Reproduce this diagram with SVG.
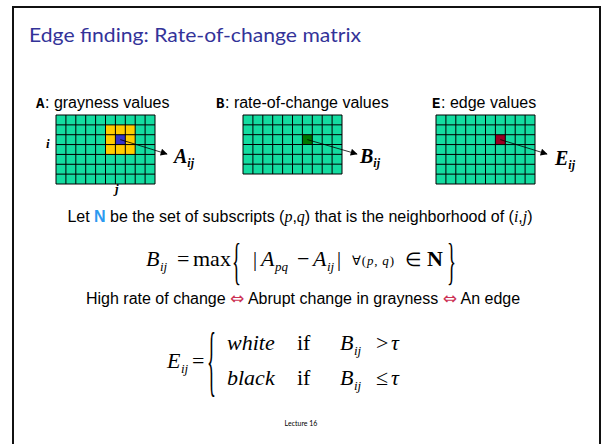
<svg xmlns="http://www.w3.org/2000/svg" width="602" height="444" viewBox="0 0 602 444" xml:space="preserve">
<defs>
<marker id="ah" viewBox="0 0 10 10" refX="9" refY="5" markerWidth="9" markerHeight="7" orient="auto" markerUnits="userSpaceOnUse">
<path d="M0,0 L10,5 L0,10 z" fill="#000"/>
</marker>
<style>
.grid{fill:#14DCA0}
.gl{stroke:#000;stroke-width:1;fill:none}
.lab{font-family:"Liberation Sans",Arial,sans-serif;font-size:16px;fill:#000}
.mono{font-family:"Liberation Mono","Courier New",monospace;font-weight:bold;font-size:14px;fill:#000}
.mi{font-family:"Liberation Serif","Times New Roman",serif;font-style:italic;fill:#000}
.mr{font-family:"Liberation Serif","Times New Roman",serif;fill:#000}
.bi{font-family:"Liberation Serif","Times New Roman",serif;font-style:italic;font-weight:bold;fill:#000}
.conn{stroke:#000;stroke-width:0.8;fill:none}
.iff{fill:#CC3355;font-family:"DejaVu Sans",sans-serif;font-size:17px}
</style>
</defs>
<rect x="13" y="7" width="587" height="450" fill="#fff" stroke="#111" stroke-width="2"/>
<g id="title">
<text x="29" y="42" font-family="Lato,'Open Sans',sans-serif" font-size="20" fill="#333399" textLength="332" lengthAdjust="spacingAndGlyphs">Edge finding:  Rate-of-change matrix</text>
</g>

<g id="gridA">
<text class="mono" x="36" y="108">A</text><text class="lab" x="45" y="108">:  grayness values</text>
<rect class="grid" x="56" y="115" width="99" height="69"/>
<rect x="105.5" y="124.86" width="29.7" height="29.57" fill="#FFCC00"/>
<rect x="115.4" y="134.71" width="9.9" height="9.86" fill="#3333CC"/>
<path class="gl" d="M56,115V184M65.9,115V184M75.8,115V184M85.7,115V184M95.6,115V184M105.5,115V184M115.4,115V184M125.3,115V184M135.2,115V184M145.1,115V184M155,115V184M56,115H155M56,124.86H155M56,134.71H155M56,144.57H155M56,154.43H155M56,164.29H155M56,174.14H155M56,184H155"/>
<text class="bi" x="46" y="148" font-size="13">i</text>
<text class="bi" x="115" y="193" font-size="13">j</text>
<text class="bi" x="174" y="163" font-size="20">A<tspan font-size="12" dy="4">ij</tspan></text>
</g>

<g id="gridB">
<text class="mono" x="216" y="108">B</text><text class="lab" x="225" y="108">:  rate-of-change values</text>
<rect class="grid" x="243" y="115" width="99" height="59"/>
<rect x="302.4" y="134.67" width="9.9" height="9.83" fill="#007700"/>
<path class="gl" d="M243,115V174M252.9,115V174M262.8,115V174M272.7,115V174M282.6,115V174M292.5,115V174M302.4,115V174M312.3,115V174M322.2,115V174M332.1,115V174M342,115V174M243,115H342M243,124.83H342M243,134.67H342M243,144.5H342M243,154.33H342M243,164.17H342M243,174H342"/>
<text class="bi" x="360" y="163" font-size="20">B<tspan font-size="12" dy="4">ij</tspan></text>
</g>

<g id="gridE">
<text class="mono" x="432" y="108">E</text><text class="lab" x="441" y="108">:  edge values</text>
<rect class="grid" x="436" y="115" width="99" height="69"/>
<rect x="495.4" y="134.71" width="9.9" height="9.86" fill="#990022"/>
<path class="gl" d="M436,115V184M445.9,115V184M455.8,115V184M465.7,115V184M475.6,115V184M485.5,115V184M495.4,115V184M505.3,115V184M515.2,115V184M525.1,115V184M535,115V184M436,115H535M436,124.86H535M436,134.71H535M436,144.57H535M436,154.43H535M436,164.29H535M436,174.14H535M436,184H535"/>
<text class="bi" x="555" y="165" font-size="20">E<tspan font-size="12" dy="4">ij</tspan></text>
</g>

<g id="connectors">
<line class="conn" x1="120.3" y1="139.6" x2="167" y2="154" marker-end="url(#ah)"/>
<line class="conn" x1="307.3" y1="139.6" x2="357" y2="154" marker-end="url(#ah)"/>
<line class="conn" x1="500.3" y1="139.6" x2="547" y2="154" marker-end="url(#ah)"/>
</g>

<g id="neighborhood">
<text class="lab" x="300" y="222" text-anchor="middle">Let <tspan font-weight="bold" fill="#2C9AF0">N</tspan> be the set of subscripts (<tspan class="mi">p</tspan>,<tspan class="mi">q</tspan>) that is the neighborhood of (<tspan class="mi">i</tspan>,<tspan class="mi">j</tspan>)</text>
</g>

<g id="formulaB">
<text class="mi" x="146" y="266" font-size="22">B</text>
<text class="mi" x="160" y="271" font-size="13">ij</text>
<text class="mr" x="177" y="266" font-size="22">=</text>
<text class="mr" x="193" y="266" font-size="22">max</text>
<text class="mr" x="0" y="0" font-size="22" transform="translate(232,278) scale(0.85,2.35)">{</text>
<text class="mr" x="253" y="266" font-size="20">|</text>
<text class="mi" x="261" y="266" font-size="22">A</text>
<text class="mi" x="275" y="271" font-size="13">pq</text>
<text class="mr" x="297" y="266" font-size="22">−</text>
<text class="mi" x="313" y="266" font-size="22">A</text>
<text class="mi" x="327" y="271" font-size="13">ij</text>
<text class="mr" x="337" y="266" font-size="20">|</text>
<text class="mr" x="352" y="265" font-size="13" letter-spacing="0.8">∀(<tspan font-style="italic">p</tspan>, <tspan font-style="italic">q</tspan>)</text>
<text class="mr" x="405" y="266" font-size="19">∈</text>
<text class="mr" x="427" y="266" font-size="22" font-weight="bold">N</text>
<text class="mr" x="0" y="0" font-size="22" transform="translate(447,278) scale(0.85,2.35)">}</text>
</g>

<g id="implication">
<text class="lab" x="86" y="304">High rate of change <tspan class="iff">⇔</tspan> Abrupt change in grayness <tspan class="iff">⇔</tspan> An edge</text>
</g>

<g id="formulaE">
<text class="mi" x="167" y="368" font-size="22">E</text>
<text class="mi" x="181" y="373" font-size="13">ij</text>
<text class="mr" x="192" y="368" font-size="22">=</text>
<text class="mr" x="0" y="0" font-size="22" transform="translate(207,387) scale(0.85,3.6)">{</text>
<text class="mi" x="227" y="350" font-size="22">white</text>
<text class="mr" x="297" y="350" font-size="22">if</text>
<text class="mi" x="340" y="350" font-size="22">B</text>
<text class="mi" x="354" y="355" font-size="13">ij</text>
<text class="mr" x="376" y="350" font-size="22">&gt;</text>
<text class="mi" x="391" y="350" font-size="22">τ</text>
<text class="mi" x="227" y="385" font-size="22">black</text>
<text class="mr" x="297" y="385" font-size="22">if</text>
<text class="mi" x="340" y="385" font-size="22">B</text>
<text class="mi" x="354" y="390" font-size="13">ij</text>
<text class="mr" x="376" y="385" font-size="22">≤</text>
<text class="mi" x="391" y="385" font-size="22">τ</text>
</g>

<g id="footer">
<text x="301" y="426" text-anchor="middle" font-family="Lato,sans-serif" font-size="7" fill="#000">Lecture 16</text>
</g>
</svg>
